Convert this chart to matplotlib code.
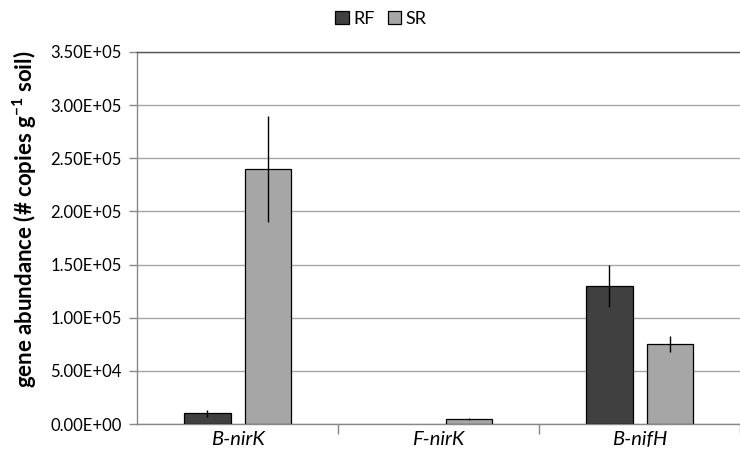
import matplotlib.pyplot as plt
import numpy as np

genes = ['B-nirK', 'F-nirK', 'B-nifH']
rf_vals = [1.0e4, 0.0, 1.30e5]
rf_err = [3.0e3, 0.0, 2.0e4]
sr_vals = [2.40e5, 5.0e3, 7.5e4]
sr_err = [5.0e4, 1.0e3, 7.5e3]
yticks = np.arange(0, 3.5e5 + 1, 5e4)

plt.rcParams['font.family'] = ['Lato', 'DejaVu Sans']
plt.rcParams['mathtext.fontset'] = 'custom'
plt.rcParams['mathtext.rm'] = 'Lato'
plt.rcParams['mathtext.bf'] = 'Lato:bold'

fig = plt.figure(figsize=(7.4, 4.69), dpi=100)
W, H = 740, 469
ax = fig.add_axes([137 / W, 45 / H, (740 - 137) / W, (424 - 52) / H])

x = np.arange(len(genes))
bw = 0.233
rf_lw = [0.9 if v > 0 else 0 for v in rf_vals]
ax.bar(x - 0.15, rf_vals, bw, color='#404040', edgecolor='black', linewidth=rf_lw,
       label='RF', zorder=3)
ax.bar(x + 0.152, sr_vals, bw, color='#a6a6a6', edgecolor='black', linewidth=0.9,
       label='SR', zorder=3)
ax.errorbar(x - 0.15, rf_vals, yerr=rf_err, fmt='none', ecolor='black',
            elinewidth=1, capsize=0, zorder=4)
ax.errorbar(x + 0.152, sr_vals, yerr=sr_err, fmt='none', ecolor='black',
            elinewidth=1, capsize=0, zorder=4)

ax.set_ylim(0, 3.5e5)
ax.set_xlim(-0.5, 2.5 - 9.5 / 204)
ax.set_yticks(yticks)
ax.set_yticklabels(['%.2fE+%02d' % (v / 10 ** int(np.log10(v)), int(np.log10(v)))
                    if v > 0 else '0.00E+00' for v in yticks], fontsize=12)
ax.yaxis.grid(True, color='#a6a6a6', linewidth=1, zorder=0)
ax.set_axisbelow(True)

# category labels centred, ticks at the category boundaries
ax.set_xticks(x)
ax.set_xticklabels(genes, fontsize=14.5, style='italic')
ax.tick_params(axis='x', length=0, pad=5)
ax.set_xticks([0.5, 1.5, 2.5], minor=True)
ax.tick_params(axis='x', which='minor', length=7, color='#888888', width=1)
ax.tick_params(axis='y', length=6, color='#888888', width=1, pad=5)

for side in ['left', 'bottom']:
    ax.spines[side].set_color('#888888')
    ax.spines[side].set_linewidth(1)
ax.spines['top'].set_color('#555555')
ax.spines['top'].set_linewidth(1)
ax.spines['right'].set_visible(False)

ax.set_ylabel('gene abundance (# copies g$^{\\mathbf{-1}}$ soil)', fontsize=16,
              fontweight='bold')
ax.yaxis.set_label_coords(-0.162, 0.55)

fig.legend(loc='upper center', bbox_to_anchor=(381 / W, 1.0), ncol=2, frameon=False,
           fontsize=13, handlelength=0.75, handleheight=0.75, handletextpad=0.25,
           columnspacing=0.7, borderaxespad=0.2)

plt.savefig('out.png', dpi=100)
